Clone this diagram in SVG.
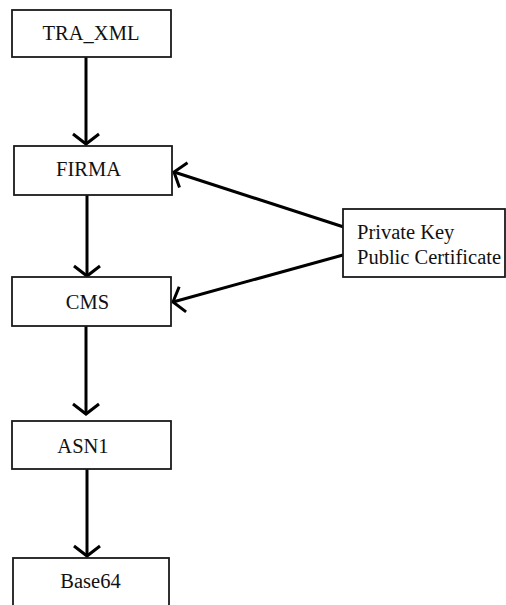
<svg xmlns="http://www.w3.org/2000/svg" width="506" height="605" viewBox="0 0 506 605">
<style>
.box{fill:#fff;stroke:#1a1a1a;stroke-width:1.8}
.lbl{font-family:"Liberation Serif","Times New Roman",serif;font-size:20.5px;fill:#111}
.c{text-anchor:middle}
.ln{stroke:#000;stroke-width:3;fill:none;marker-end:url(#ah)}
</style>
<defs>
<marker id="ah" markerUnits="userSpaceOnUse" markerWidth="30" markerHeight="30" refX="0" refY="0" viewBox="-15 -15 30 30" orient="auto" overflow="visible">
<path d="M-10,-13 L0,0 L-10,13" fill="none" stroke="#000" stroke-width="3" stroke-linejoin="miter"/>
</marker>
</defs>
<rect width="506" height="605" fill="#fff"/>
<g id="connectors">
<line class="ln" x1="86" y1="57" x2="86" y2="144"/>
<line class="ln" x1="87" y1="195" x2="87" y2="276"/>
<line class="ln" x1="86" y1="326" x2="86" y2="414"/>
<line class="ln" x1="87" y1="469" x2="87" y2="556"/>
<line class="ln" x1="353" y1="230" x2="174" y2="172"/>
<line class="ln" x1="343" y1="255" x2="173" y2="302"/>
</g>
<g id="tra_xml"><rect class="box" x="12" y="10" width="159" height="47"/><text class="lbl c" x="91" y="40">TRA_XML</text></g>
<g id="firma"><rect class="box" x="14" y="146" width="158" height="49"/><text class="lbl c" x="88.5" y="176">FIRMA</text></g>
<g id="cms"><rect class="box" x="12" y="277" width="159" height="49"/><text class="lbl c" x="87.5" y="309">CMS</text></g>
<g id="asn1"><rect class="box" x="12" y="421" width="159" height="48"/><text class="lbl c" x="83" y="453">ASN1</text></g>
<g id="base64"><rect class="box" x="13" y="558" width="156" height="60"/><text class="lbl c" x="90.5" y="588">Base64</text></g>
<g id="keys"><rect class="box" x="343" y="209" width="162" height="68"/><text class="lbl" x="357" y="239">Private Key</text><text class="lbl" x="357" y="264">Public Certificate</text></g>
</svg>
